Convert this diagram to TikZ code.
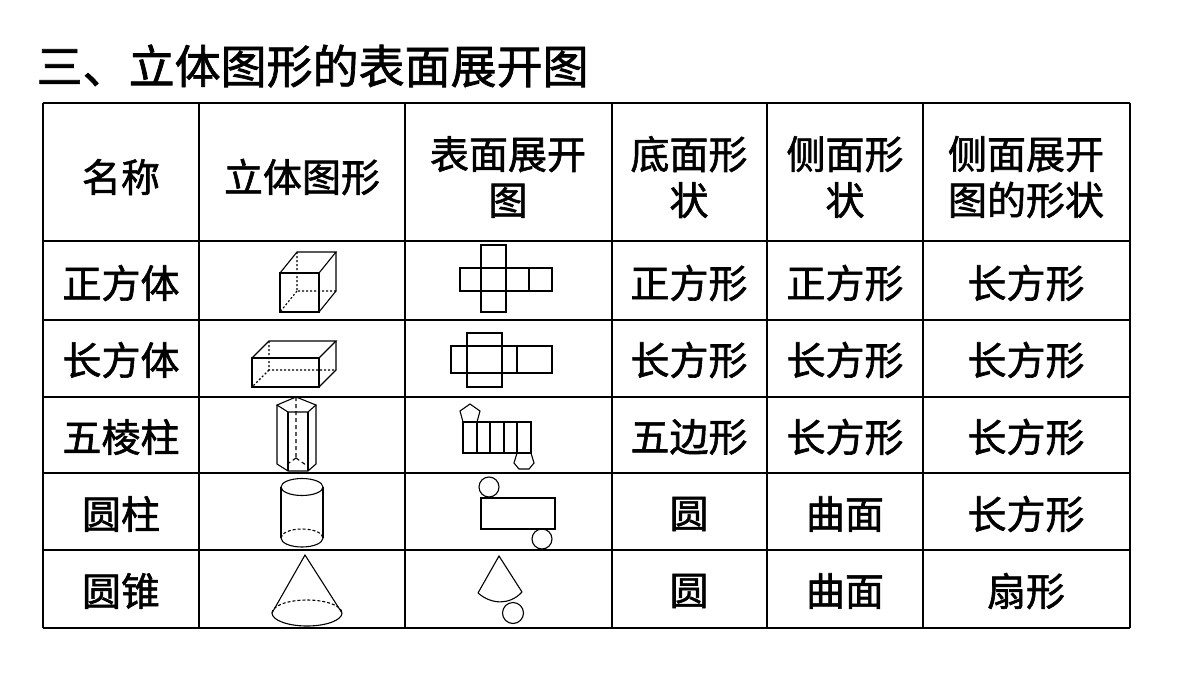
\documentclass[tikz,border=0pt]{standalone}
\usepackage{fontspec}
\setmainfont{Noto Sans CJK SC}[FakeBold=1.5]
\begin{document}
\begin{tikzpicture}[x=1pt,y=-1pt,line width=1.3pt,
  cell/.style={font=\fontsize{39}{46}\selectfont,align=center,inner sep=0},
  fig/.style={line width=1.1pt},
  hid/.style={fig,dash pattern=on 2pt off 2pt}]
\useasboundingbox (0,0) rectangle (1200,675);
\node[anchor=west,inner sep=0,font=\fontsize{46}{48}\selectfont] (title) at (36,66) {三、立体图形的表面展开图};
% grid
\def\xs{43,199,405,612,767,923,1130}
\foreach \x in \xs {\draw (\x,103) -- (\x,628);}
\foreach \y in {103,241,320,397,473,550,628} {\draw (43,\y) -- (1130,\y);}
% header
\node[cell] (h1) at (121,177) {名称};
\node[cell] (h2) at (302,177) {立体图形};
\node[cell] (h3) at (508,177) {表面展开\\图};
\node[cell] (h4) at (689,177) {底面形\\状};
\node[cell] (h5) at (845,177) {侧面形\\状};
\node[cell] (h6) at (1026,177) {侧面展开\\图的形状};
% rows
\foreach \y/\a/\b/\c/\d [count=\i] in {283/正方体/正方形/正方形/长方形,360/长方体/长方形/长方形/长方形,437/五棱柱/五边形/长方形/长方形,514/圆柱/圆/曲面/长方形,591/圆锥/圆/曲面/扇形}{
  \node[cell] (a\i) at (121,\y) {\a};
  \node[cell] (b\i) at (689,\y) {\b};
  \node[cell] (c\i) at (845,\y) {\c};
  \node[cell] (d\i) at (1026,\y) {\d};
}
% cube
\draw[fig] (280,273) rectangle (319,312);
\draw[fig] (280,273) -- (297,252) -- (336,252) -- (319,273);
\draw[fig] (336,252) -- (336,291) -- (319,312);
\draw[hid] (297,252) -- (297,291) -- (336,291) (297,291) -- (280,312);
% cube net
\draw[fig] (481,245) rectangle (506,312);
\draw[fig] (460,268) rectangle (552,291);
\draw[fig] (481,268) -- (481,291) (506,268)--(506,291) (529,268) -- (529,291);
% cuboid
\draw[fig] (252,358) rectangle (319,387);
\draw[fig] (252,358) -- (269,341) -- (336,341) -- (319,358);
\draw[fig] (336,341) -- (336,370) -- (319,387);
\draw[hid] (269,341) -- (269,370) -- (336,370) (269,370) -- (252,387);
% cuboid net
\draw[fig] (467,333) rectangle (502,387);
\draw[fig] (451,346) rectangle (552,373);
\draw[fig] (517,346) -- (517,373);
% pentagonal prism
\draw[fig] (277,405) -- (296,397) -- (316,405) -- (308,412) -- (288,412) -- cycle;
\draw[fig] (277,405) -- (277,464) -- (288,471) -- (308,471) -- (316,464) -- (316,405);
\draw[fig] (288,412) -- (288,471) (308,412) -- (308,471);
\draw[hid,dash pattern=on 4pt off 3pt] (296,397) -- (296,458) (296,458) -- (286,465) (296,458) -- (306,465);
% pentagon net
\draw[fig] (463,422) rectangle (531,453);
\foreach \x in {477,490,504,517} \draw[fig] (\x,422) -- (\x,453);
\draw[fig] (463,422) -- (460,411) -- (470,404) -- (480,411) -- (477,422);
\draw[fig] (517,453) -- (514,463) -- (519,469) -- (529,469) -- (534,463) -- (531,453);
% cylinder
\draw[fig] (302,487) ellipse (21 and 8.5);
\draw[fig] (281,487) -- (281,538) (323,487) -- (323,538);
\draw[fig] (281,538) arc (180:0:21 and 9);
\draw[hid,dash pattern=on 3pt off 2pt] (281,538) arc (180:360:21 and 9);
% cylinder net
\draw[fig] (489,487) circle (10);
\draw[fig] (481,498) rectangle (555,529);
\draw[fig] (542,539) circle (10);
% cone
\draw[fig] (272,613) -- (305,555) -- (342,613);
\draw[fig] (272,613) arc (180:0:35 and 13);
\draw[hid,dash pattern=on 3pt off 2pt] (272,613) arc (180:360:35 and 13);
% cone net
\draw[fig] (478,593) -- (499,556) -- (522,592);
\draw[fig] (478,593) .. controls (492,605) and (510,605) .. (522,592);
\draw[fig] (513,613) circle (10.5);
\end{tikzpicture}
\end{document}
